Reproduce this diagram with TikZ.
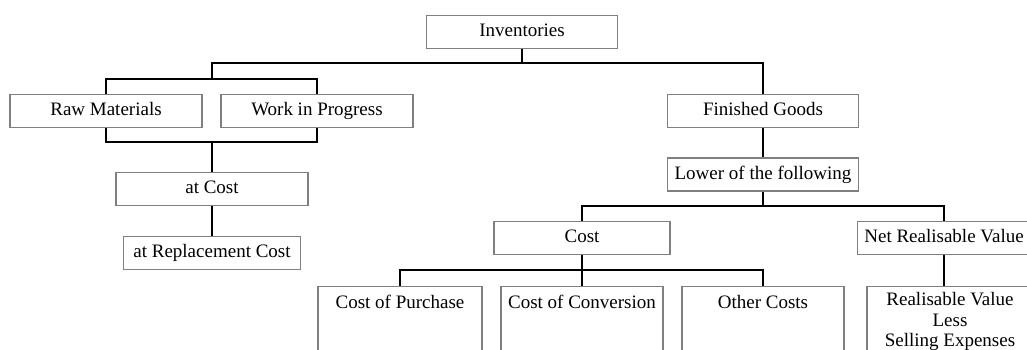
\documentclass[tikz,border=0pt]{standalone}
\usepackage{fontspec}
\setmainfont{Liberation Serif}
\usetikzlibrary{calc}

\tikzset{
  box/.style={draw=gray, line width=0.6pt, minimum height=16pt,
    text height=7pt, text depth=2.5pt,
    font=\fontsize{9.5}{10.5}\selectfont},
  tallbox/.style={box, anchor=north, inner ysep=4pt, text depth=34pt,
    align=center},
  link/.style={line width=0.75pt}
}

\begin{document}
\begin{tikzpicture}[x=0.5pt,y=-0.5pt]

\useasboundingbox (0,0) rectangle (1027,349);
\clip (0,0) rectangle (1027,349);

% Inventories
\node[box, minimum width=95.5pt]
(inv) at (522,32)
{Inventories};

% Raw Materials / Work in Progress
\node[box, minimum width=96pt]
(raw) at (106,111)
{Raw Materials};

\node[box, minimum width=96pt]
(wip) at (317,111)
{Work in Progress};

\node[box, minimum width=96pt]
(atcost) at (212,189)
{at Cost};

\node[box, minimum width=88.5pt]
(repl) at (212,253)
{at Replacement Cost};

% Finished Goods
\node[box, minimum width=95.5pt]
(fin) at (763,111)
{Finished Goods};

\node[box, minimum width=95.5pt, minimum height=16.5pt, inner xsep=3pt]
(lower) at (763,174.5)
{Lower of the following};

\node[box, minimum width=88pt]
(cost) at (582,238)
{Cost};

\node[box, minimum width=85pt]
(nrv) at (944,238)
{Net Realisable Value};

% Bottom row
\node[tallbox, minimum width=82pt]
(purch) at (400,286)
{Cost of Purchase};

\node[tallbox, minimum width=81pt]
(conv) at (582,286)
{Cost of Conversion};

\node[tallbox, minimum width=81pt]
(other) at (763,286)
{Other Costs};

\node[tallbox, minimum width=83pt, inner ysep=2.5pt,
  font=\fontsize{9.5}{10.2}\selectfont, text height=27.4pt, text depth=14pt]
(rv) at (950,286)
{Realisable Value\\Less\\Selling Expenses};

% Junctions
\coordinate (jTop) at (522,63);
\coordinate (jRW) at (212,79);
\coordinate (jRWlow) at (212,142);
\coordinate (jLow) at (763,206);
\coordinate (jCost) at (582,270);

% Connectors
\draw[link]
(inv.south)
--
(jTop);

\draw[link]
(jRW)
--
(jRW |- jTop)
-|
(fin.north);

\draw[link]
(raw.north)
|-
(jRW)
-|
(wip.north);

\draw[link]
(raw.south)
|-
(jRWlow)
-|
(wip.south);

\draw[link]
(jRWlow)
--
(atcost.north);

\draw[link]
(atcost.south)
--
(repl.north);

\draw[link]
(fin.south)
--
(lower.north);

\draw[link]
(lower.south)
--
(jLow);

\draw[link]
(cost.north)
|-
(jLow)
-|
(nrv.north);

\draw[link]
(cost.south)
--
(conv.north);

\draw[link]
(purch.north)
|-
(jCost)
-|
(other.north);

\draw[link]
(nrv.south)
--
(nrv.south |- rv.north);

\end{tikzpicture}
\end{document}
